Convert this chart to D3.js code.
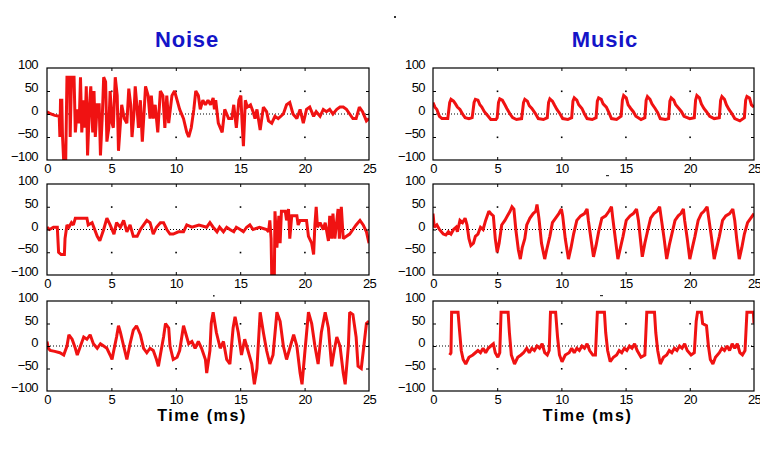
<!DOCTYPE html>
<html>
<head>
<meta charset="utf-8">
<script src="https://cdn.jsdelivr.net/npm/d3@7"></script>
<style>
  html, body { margin: 0; padding: 0; background: #ffffff; }
  svg { display: block; }
</style>
</head>
<body>
<svg id="chart" width="776" height="466"></svg>
<script>
// ---------------- DATA ----------------
const columnTitles = ["Noise", "Music"];
const timeTicks = [0, 5, 10, 15, 20, 25];
const ampTicks = [100, 50, 0, -50, -100];
const xAxisLabel = "Time (ms)";

// [time (ms), amplitude]
const noise1 = [[0,5],[0.3,0],[0.6,-3],[0.95,-5],[1.0,-50],[1.05,30],[1.15,30],[1.2,-45],[1.3,-105],[1.45,-105],[1.55,80],[1.75,80],[1.8,-50],[1.9,80],[2.1,80],[2.2,-40],[2.35,10],[2.5,-20],[2.6,80],[2.7,-40],[2.85,30],[2.95,-30],[3.05,60],[3.15,-90],[3.3,20],[3.4,60],[3.55,-40],[3.65,50],[3.75,-50],[3.9,20],[4.05,20],[4.15,-90],[4.3,0],[4.4,80],[4.55,70],[4.65,-60],[4.8,-30],[4.9,50],[5.05,-20],[5.15,-30],[5.3,80],[5.45,40],[5.55,-80],[5.7,-20],[5.8,20],[6.0,-10],[6.2,-20],[6.35,55],[6.5,20],[6.6,-50],[6.75,0],[6.85,60],[7.0,10],[7.1,-30],[7.25,30],[7.4,-60],[7.55,10],[7.65,60],[7.85,40],[8.0,-10],[8.1,40],[8.25,-10],[8.4,20],[8.6,-40],[8.8,50],[9.0,40],[9.15,-30],[9.3,40],[9.45,-20],[9.7,40],[9.9,50],[10.1,30],[10.3,10],[10.6,-10],[10.85,-40],[11.0,-50],[11.2,-30],[11.4,10],[11.55,50],[11.75,40],[11.9,10],[12.1,30],[12.3,20],[12.5,30],[12.7,20],[12.9,35],[13.0,10],[13.1,30],[13.3,-20],[13.6,-40],[13.8,10],[14.1,-10],[14.35,-10],[14.5,20],[14.7,-30],[14.9,30],[15.05,40],[15.15,-20],[15.25,-70],[15.4,30],[15.55,15],[15.8,20],[16.0,5],[16.15,-10],[16.3,10],[16.55,-35],[16.8,15],[17.05,5],[17.2,-15],[17.45,-20],[17.7,-5],[17.95,-10],[18.35,0],[18.6,20],[18.85,25],[19.1,0],[19.4,-10],[19.65,10],[19.9,-20],[20.15,10],[20.4,15],[20.7,-5],[20.9,5],[21.2,-5],[21.45,10],[21.7,5],[21.95,10],[22.2,0],[22.5,10],[22.75,15],[23.0,15],[23.25,10],[23.5,0],[23.75,-10],[24.0,-10],[24.25,15],[24.5,5],[24.8,-15],[25,-10]];

const noise2 = [[0,5],[0.2,0],[0.5,5],[0.8,5],[0.9,-50],[1.1,-55],[1.35,-55],[1.4,-20],[1.55,10],[1.7,5],[1.9,15],[2.05,10],[2.2,25],[2.6,25],[3.1,25],[3.2,10],[3.5,15],[3.9,-15],[4.1,-25],[4.4,0],[4.65,25],[4.9,10],[5.2,-10],[5.4,15],[5.7,5],[5.95,20],[6.2,-5],[6.45,10],[6.7,-15],[7.0,-15],[7.25,0],[7.5,10],[7.75,20],[8.0,15],[8.25,-10],[8.5,5],[8.8,15],[9.05,15],[9.3,0],[9.55,-10],[9.8,-10],[10.2,-5],[10.6,-5],[10.85,10],[11.25,5],[11.8,10],[12.4,5],[12.65,15],[12.9,5],[13.2,-5],[13.4,5],[13.7,-5],[13.95,5],[14.2,0],[14.5,-5],[14.7,5],[15.0,0],[15.25,-5],[15.5,5],[15.75,10],[16.0,0],[16.5,5],[17.05,0],[17.2,-5],[17.3,20],[17.4,-20],[17.45,-105],[17.65,-105],[17.7,40],[17.85,-40],[18.0,30],[18.1,-30],[18.2,40],[18.5,40],[18.6,20],[18.75,45],[18.85,-20],[19.0,30],[19.4,30],[19.5,10],[19.65,20],[20.15,20],[20.3,-15],[20.55,-30],[20.7,-55],[20.8,10],[20.9,50],[21.0,5],[21.2,15],[21.45,0],[21.6,15],[21.85,-25],[21.95,30],[22.1,-20],[22.2,35],[22.35,-20],[22.6,45],[22.7,-20],[22.85,50],[23.0,-20],[23.25,-15],[23.5,-10],[23.75,0],[24.0,10],[24.3,20],[24.55,10],[24.8,-5],[25,-30]];

const noise3 = [[0,10],[0.1,-5],[0.25,-10],[0.6,-12],[1.0,-15],[1.3,-20],[1.55,0],[1.7,25],[1.95,15],[2.2,-5],[2.35,-20],[2.6,0],[2.85,20],[3.1,15],[3.35,25],[3.6,5],[3.9,-5],[4.15,5],[4.4,0],[4.65,-5],[4.9,-20],[5.05,-30],[5.15,-15],[5.4,20],[5.55,45],[5.7,30],[5.95,0],[6.2,-30],[6.45,5],[6.7,35],[6.95,45],[7.25,25],[7.5,-5],[7.75,-15],[8.0,-5],[8.25,-10],[8.5,-30],[8.65,-45],[8.8,-20],[9.05,20],[9.2,50],[9.45,40],[9.55,0],[9.8,-30],[10.1,-25],[10.3,-10],[10.6,45],[10.85,20],[11.0,5],[11.25,10],[11.5,-5],[11.75,10],[12.0,-5],[12.3,-30],[12.4,-60],[12.65,-10],[12.75,50],[12.9,75],[13.15,30],[13.45,-5],[13.7,10],[13.95,-30],[14.2,-40],[14.45,40],[14.6,65],[14.85,30],[15.1,-20],[15.35,15],[15.6,-10],[15.9,-40],[16.1,-85],[16.3,-50],[16.55,75],[16.8,30],[17.05,-10],[17.3,-40],[17.55,-20],[17.85,75],[18.1,55],[18.35,0],[18.6,-30],[18.9,0],[19.15,25],[19.4,0],[19.65,-60],[19.8,-85],[20.0,-20],[20.3,75],[20.55,50],[20.8,0],[21.05,-40],[21.3,30],[21.6,75],[21.85,40],[22.1,-45],[22.3,-10],[22.5,20],[22.75,0],[23.0,-60],[23.15,-85],[23.4,0],[23.5,75],[23.75,70],[24.0,20],[24.15,-45],[24.4,-50],[24.6,0],[24.8,50],[25,55]];

const music1 = [[0,25],[0.15,15],[0.3,10],[0.5,-5],[0.7,-10],[1.15,-10],[1.3,25],[1.4,32],[1.6,28],[1.75,22],[1.9,15],[2.1,10],[2.3,0],[2.5,-8],[2.8,-10],[3.05,-8],[3.2,25],[3.3,32],[3.5,30],[3.65,20],[3.8,15],[4.0,5],[4.3,-5],[4.5,-12],[4.9,-12],[5.0,-8],[5.1,25],[5.2,33],[5.4,30],[5.6,20],[5.75,12],[6.0,0],[6.2,-8],[6.5,-12],[6.9,-10],[7.05,25],[7.15,32],[7.35,28],[7.5,18],[7.7,12],[7.95,2],[8.2,-10],[8.6,-12],[8.9,-8],[9.0,25],[9.1,33],[9.3,28],[9.45,20],[9.65,10],[9.9,0],[10.1,-10],[10.5,-12],[10.8,-8],[10.9,28],[11.0,35],[11.2,30],[11.35,20],[11.6,12],[11.8,0],[12.0,-10],[12.4,-12],[12.7,-8],[12.8,28],[12.9,35],[13.1,32],[13.25,22],[13.5,15],[13.7,3],[13.9,-10],[14.3,-12],[14.65,-5],[14.75,30],[14.85,40],[15.05,35],[15.2,20],[15.4,12],[15.6,5],[15.8,-5],[16.2,-12],[16.5,-8],[16.6,30],[16.7,38],[16.9,32],[17.05,22],[17.3,12],[17.5,3],[17.7,-10],[18.1,-12],[18.35,-10],[18.45,28],[18.55,35],[18.75,30],[18.9,20],[19.15,12],[19.35,5],[19.55,-5],[20.0,-10],[20.35,-8],[20.45,30],[20.55,40],[20.75,35],[20.9,22],[21.1,12],[21.3,5],[21.55,-5],[21.9,-10],[22.3,-8],[22.4,30],[22.5,38],[22.7,32],[22.85,20],[23.05,10],[23.3,0],[23.5,-10],[23.9,-15],[24.25,-8],[24.35,30],[24.45,38],[24.65,35],[24.8,20],[25,15]];

const music2 = [[0,35],[0.1,5],[0.3,10],[0.5,0],[0.8,-10],[1.0,-12],[1.2,-5],[1.4,-10],[1.6,0],[1.8,5],[1.9,-5],[2.1,20],[2.3,15],[2.5,25],[2.65,10],[2.8,-20],[2.95,-35],[3.15,-30],[3.3,-15],[3.5,-10],[3.7,5],[3.9,0],[4.1,20],[4.35,40],[4.5,35],[4.7,30],[4.85,-20],[5.0,-50],[5.15,-30],[5.35,10],[5.6,20],[5.8,30],[6.0,40],[6.15,50],[6.3,45],[6.45,0],[6.65,-45],[6.8,-65],[6.95,-40],[7.15,-20],[7.3,10],[7.55,25],[7.8,35],[8.0,40],[8.1,55],[8.25,25],[8.45,-30],[8.7,-65],[8.85,-45],[9.1,-15],[9.3,15],[9.55,25],[9.8,35],[10.0,45],[10.1,30],[10.3,-20],[10.55,-65],[10.75,-40],[10.95,-10],[11.2,20],[11.5,30],[11.8,35],[12.0,45],[12.1,20],[12.3,-20],[12.5,-60],[12.7,-35],[12.9,-5],[13.15,25],[13.45,30],[13.7,40],[13.9,50],[14.0,25],[14.2,-20],[14.4,-65],[14.6,-40],[14.8,-15],[15.05,20],[15.35,30],[15.6,35],[15.85,45],[16.0,20],[16.15,-20],[16.3,-60],[16.5,-30],[16.7,-5],[16.95,25],[17.2,35],[17.45,40],[17.65,50],[17.8,20],[18.0,-20],[18.2,-65],[18.4,-35],[18.6,-10],[18.85,20],[19.1,30],[19.3,35],[19.5,45],[19.6,20],[19.8,-20],[20.0,-65],[20.2,-40],[20.4,-15],[20.65,20],[20.9,35],[21.1,40],[21.35,50],[21.5,20],[21.7,-20],[21.9,-65],[22.1,-40],[22.3,-15],[22.55,20],[22.8,30],[23.1,35],[23.35,45],[23.5,20],[23.65,-20],[23.85,-65],[24.05,-40],[24.25,-10],[24.5,15],[24.75,25],[25,35]];

const music3 = [[1.3,-20],[1.4,-15],[1.45,75],[1.95,75],[2.05,40],[2.2,-10],[2.35,-30],[2.55,-40],[2.8,-25],[3.1,-20],[3.3,-15],[3.5,-10],[3.7,-15],[3.9,-5],[4.1,-15],[4.3,-5],[4.5,0],[4.7,5],[4.85,-15],[5.05,-25],[5.2,-15],[5.3,75],[5.85,75],[5.95,30],[6.1,-20],[6.35,-40],[6.6,-25],[6.85,-20],[7.05,-15],[7.3,-5],[7.5,-15],[7.7,-5],[7.9,-10],[8.1,0],[8.3,-5],[8.5,5],[8.7,-15],[8.9,-20],[9.05,-10],[9.15,75],[9.55,75],[9.7,20],[9.85,-20],[10.05,-35],[10.3,-20],[10.6,-15],[10.8,-5],[11.0,-15],[11.2,-5],[11.4,-10],[11.6,0],[11.8,-5],[12.0,5],[12.2,-10],[12.45,-20],[12.65,-20],[12.8,75],[13.35,75],[13.45,30],[13.6,-10],[13.8,-35],[14.05,-25],[14.3,-20],[14.5,-10],[14.7,-15],[14.9,-5],[15.1,-10],[15.3,0],[15.5,-5],[15.7,5],[15.9,-10],[16.2,-25],[16.5,-20],[16.65,75],[17.25,75],[17.35,30],[17.5,-10],[17.7,-40],[17.95,-25],[18.2,-20],[18.4,-10],[18.6,-15],[18.8,-5],[19.0,-10],[19.2,0],[19.4,-5],[19.6,5],[19.8,-10],[20.1,-20],[20.35,-15],[20.5,55],[20.6,75],[20.9,75],[21.0,50],[21.3,45],[21.45,0],[21.6,-30],[21.8,-40],[22.0,-25],[22.3,-15],[22.5,-5],[22.7,-10],[22.9,0],[23.1,-10],[23.3,5],[23.5,-5],[23.7,5],[23.9,-15],[24.1,-20],[24.3,-10],[24.45,75],[24.95,75],[25,50]];

// ---------------- LAYOUT ----------------
const svg = d3.select("#chart");
const colX = [[47, 369], [433, 754]];
const rowY = [[68, 160], [184, 275], [301, 391]];
const panels = [
  { col: 0, row: 0, data: noise1 },
  { col: 0, row: 1, data: noise2 },
  { col: 0, row: 2, data: noise3 },
  { col: 1, row: 0, data: music1 },
  { col: 1, row: 1, data: music2 },
  { col: 1, row: 2, data: music3 }
];
const FONT = "'Liberation Sans', Arial, Helvetica, sans-serif";
const lineColor = "#f01212";
const fmt = v => v < 0 ? "\u2212" + Math.abs(v) : String(v);

const defs = svg.append("defs");
defs.append("clipPath").attr("id", "rightEdge")
  .append("rect").attr("x", 0).attr("y", 0).attr("width", 760).attr("height", 466);

panels.forEach((p, i) => {
  const [x0, x1] = colX[p.col];
  const [y0, y1] = rowY[p.row];
  const x = d3.scaleLinear().domain([0, 25]).range([x0, x1]);
  const y = d3.scaleLinear().domain([-100, 100]).range([y1, y0]);
  const g = svg.append("g");

  defs.append("clipPath").attr("id", "clip" + i)
    .append("rect").attr("x", x0).attr("y", y0).attr("width", x1 - x0).attr("height", y1 - y0);

  // zero dotted line
  g.append("line")
    .attr("x1", x0).attr("x2", x1).attr("y1", y(0)).attr("y2", y(0))
    .attr("stroke", "#000").attr("stroke-width", 1).attr("stroke-dasharray", "1,2");

  // grid dots
  [5, 10, 15, 20].forEach(t => {
    [50, -50].forEach(v => {
      g.append("rect").attr("x", x(t) - 0.5).attr("y", y(v) - 0.5)
        .attr("width", 1.6).attr("height", 1.6).attr("fill", "#000");
    });
  });

  // waveform
  const line = d3.line().x(d => x(d[0])).y(d => y(d[1])).curve(d3.curveLinear);
  g.append("path").datum(p.data)
    .attr("clip-path", "url(#clip" + i + ")")
    .attr("fill", "none").attr("stroke", lineColor)
    .attr("stroke-width", 3).attr("stroke-linejoin", "miter")
    .attr("stroke-miterlimit", 2)
    .attr("d", line);

  // border
  g.append("rect").attr("x", x0).attr("y", y0)
    .attr("width", x1 - x0).attr("height", y1 - y0)
    .attr("fill", "none").attr("stroke", "#000").attr("stroke-width", 1.2);

  // inward ticks
  const inner = [5, 10, 15, 20];
  const tk = sel => { sel.select(".domain").remove(); sel.selectAll("line").attr("stroke", "#000"); };
  g.append("g").attr("transform", `translate(0,${y1})`)
    .call(d3.axisBottom(x).tickValues(inner).tickSize(-3).tickFormat("")).call(tk);
  g.append("g").attr("transform", `translate(0,${y0})`)
    .call(d3.axisTop(x).tickValues(inner).tickSize(-3).tickFormat("")).call(tk);
  g.append("g").attr("transform", `translate(${x0},0)`)
    .call(d3.axisLeft(y).tickValues([50, 0, -50]).tickSize(-3).tickFormat("")).call(tk);
  g.append("g").attr("transform", `translate(${x1},0)`)
    .call(d3.axisRight(y).tickValues([50, 0, -50]).tickSize(-3).tickFormat("")).call(tk);

  // y tick labels
  const ya = g.append("g").attr("transform", `translate(${x0},0)`)
    .call(d3.axisLeft(y).tickValues(ampTicks).tickSize(0).tickPadding(p.col === 0 ? 9 : 8).tickFormat(fmt));
  ya.select(".domain").remove();
  ya.selectAll("text").attr("font-family", FONT).attr("font-size", 13)
    .attr("letter-spacing", "-0.6").attr("fill", "#000").attr("dy", "0.05em");

  // x tick labels
  const xa = g.append("g").attr("transform", `translate(0,${y1})`)
    .call(d3.axisBottom(x).tickValues(timeTicks).tickSize(0).tickPadding(4).tickFormat(d3.format("d")));
  xa.select(".domain").remove();
  xa.selectAll("text").attr("font-family", FONT).attr("font-size", 13)
    .attr("letter-spacing", "-0.6").attr("fill", "#000");
  if (p.col === 1) xa.attr("clip-path", "url(#rightEdge)");

  if (p.row === 2) {
    g.append("text").attr("x", (x0 + x1) / 2 - 6).attr("y", y1 + 30)
      .attr("text-anchor", "middle").attr("font-family", FONT)
      .attr("font-weight", "bold").attr("font-size", 16).attr("letter-spacing", "1.6")
      .attr("fill", "#000").text(xAxisLabel);
  }
});

// column titles
const titleX = [187, 605];
columnTitles.forEach((t, i) => {
  svg.append("text").attr("x", titleX[i]).attr("y", 47)
    .attr("text-anchor", "middle").attr("font-family", FONT)
    .attr("font-size", 22).attr("font-weight", "bold").attr("letter-spacing", "0.8")
    .attr("fill", "#1414c8").text(t);
});

// small stray marks present in the original image
[[394, 16, 2, 2], [606, 175, 3, 1.2], [600, 295, 3, 1.2], [213, 295, 1.6, 1.6]].forEach(m => {
  svg.append("rect").attr("x", m[0]).attr("y", m[1]).attr("width", m[2]).attr("height", m[3]).attr("fill", "#333");
});
</script>
</body>
</html>
